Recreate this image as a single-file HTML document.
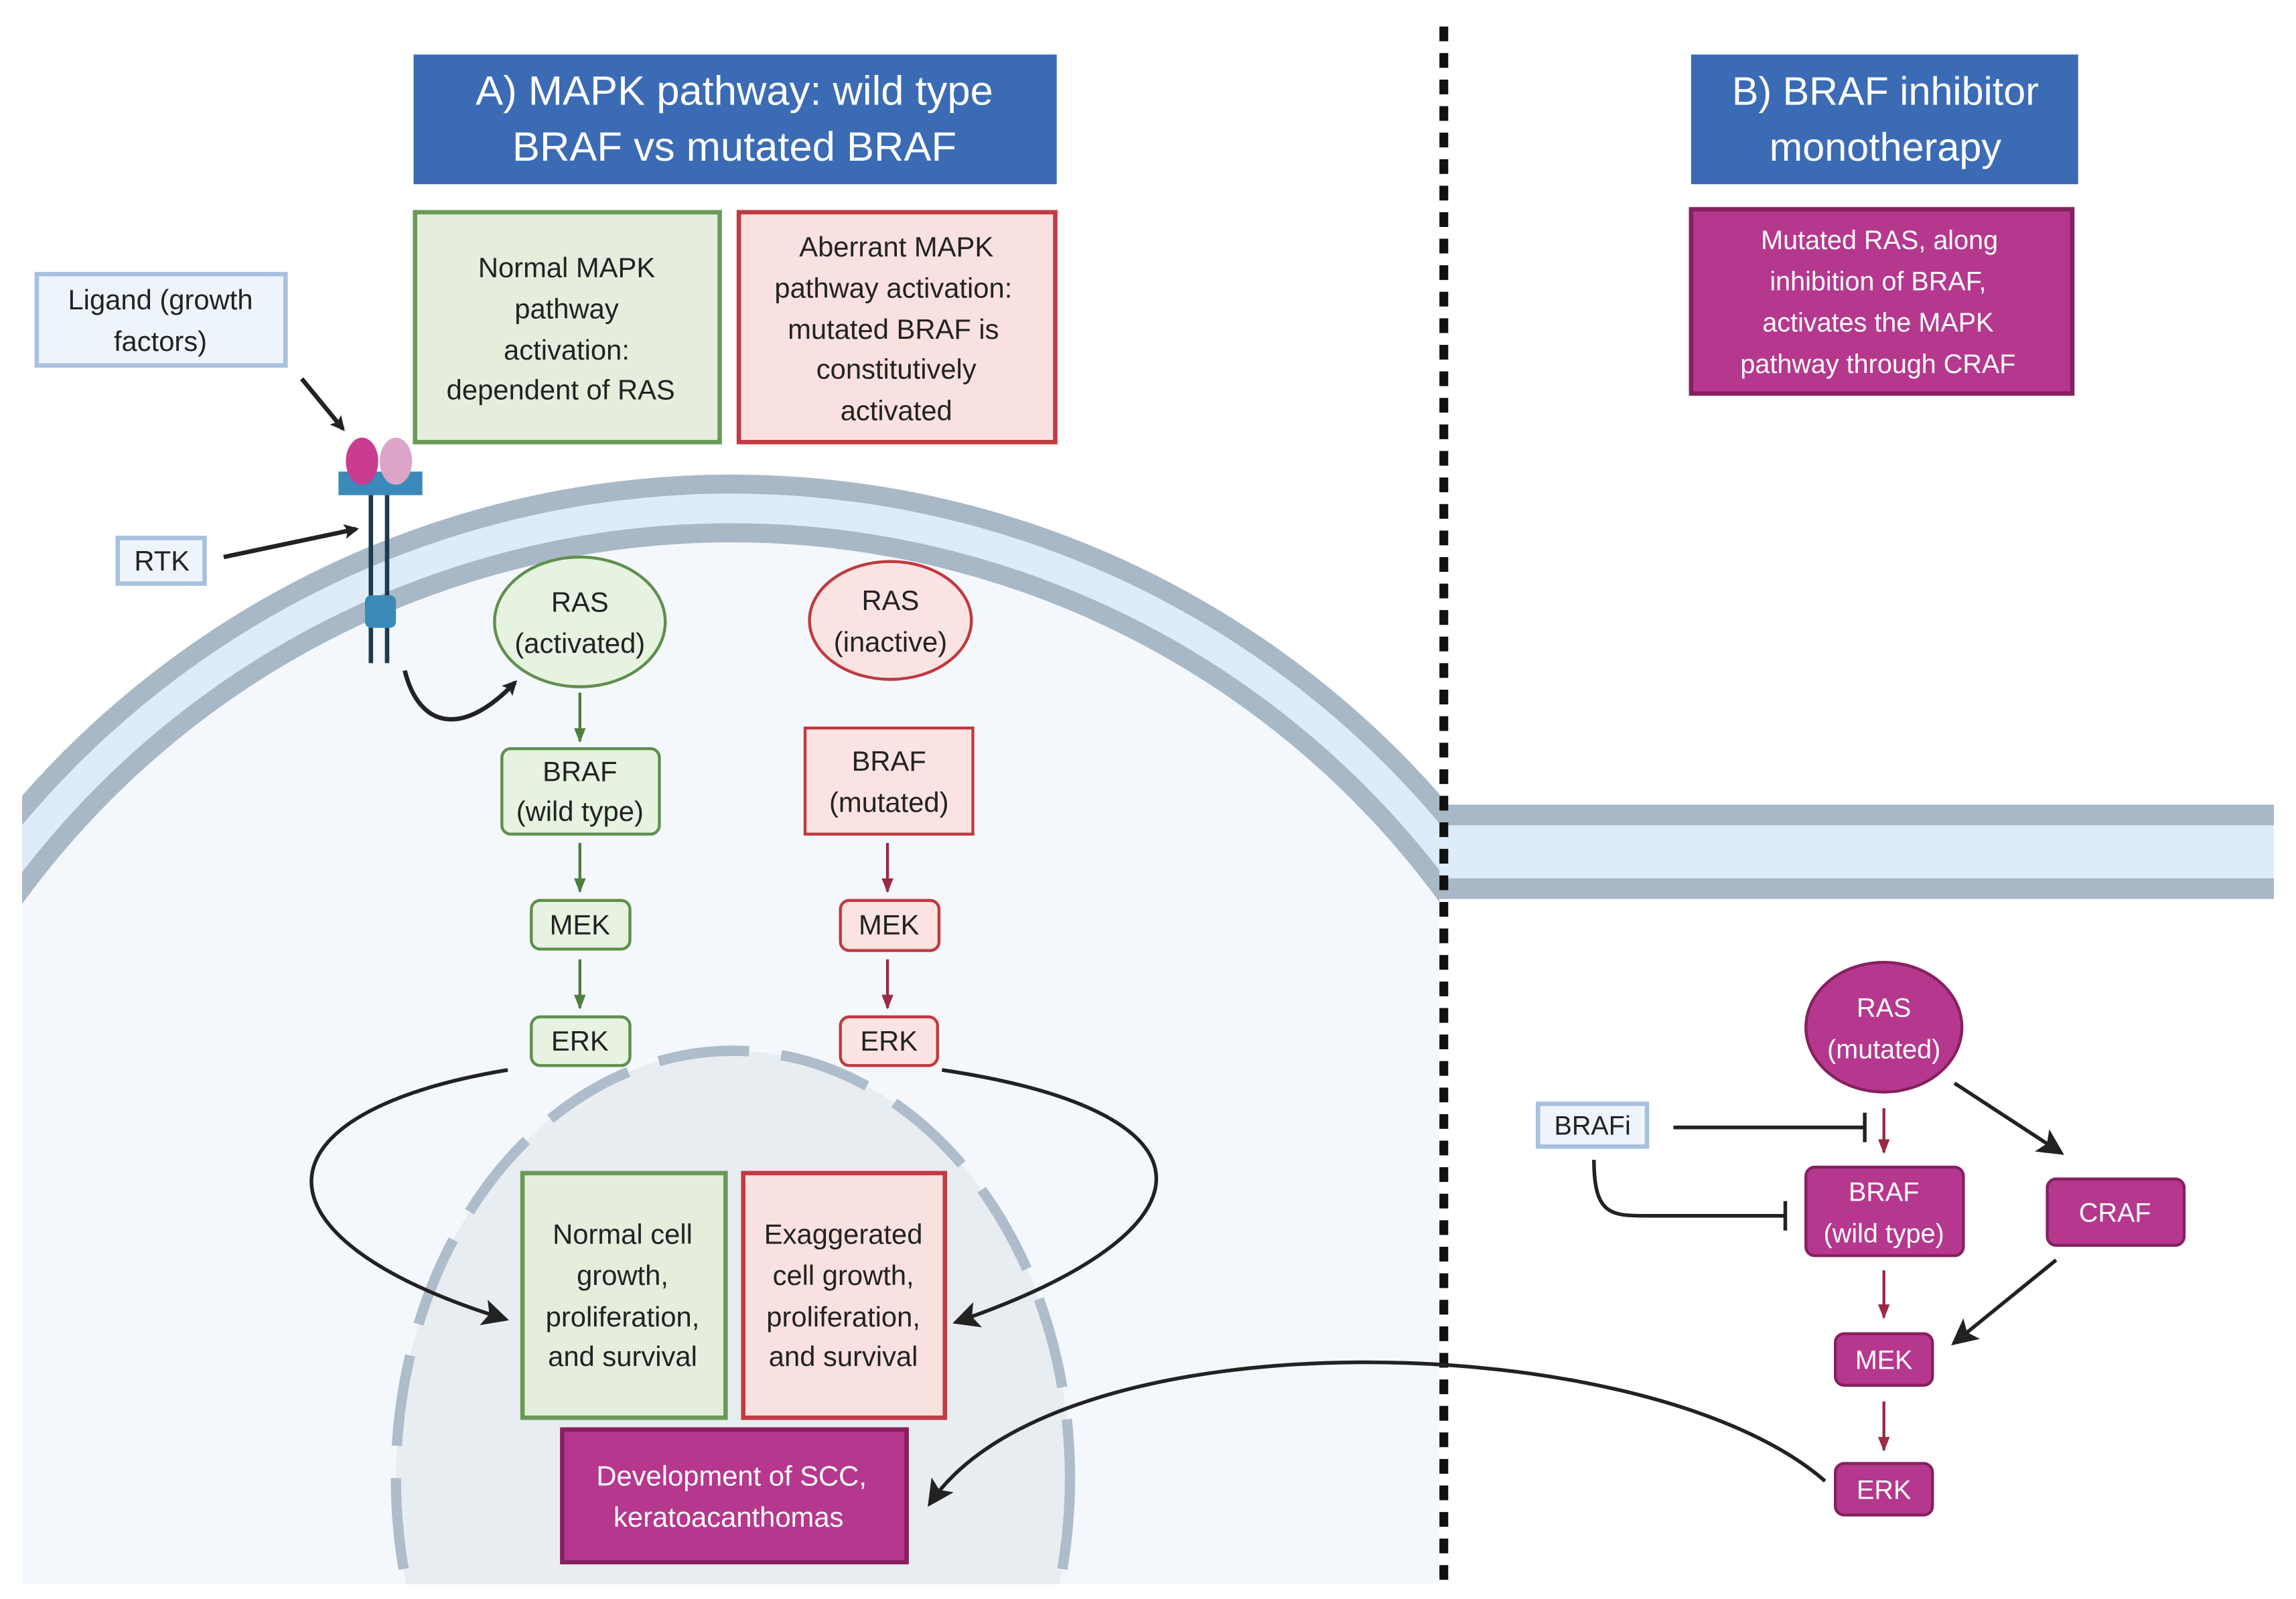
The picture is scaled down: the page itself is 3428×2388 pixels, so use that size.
<!DOCTYPE html>
<html><head><meta charset="utf-8"><style>html,body{margin:0;padding:0;background:#fff;width:3428px;height:2388px;overflow:hidden}svg{display:block}text{font-family:"Liberation Sans",sans-serif}</style></head><body>
<svg width="3428" height="2388" viewBox="0 0 1560 1085" preserveAspectRatio="none" xmlns="http://www.w3.org/2000/svg">
<defs>
<clipPath id="cl"><rect x="15" y="0" width="963" height="1075"/></clipPath>
<marker id="ab" markerWidth="10" markerHeight="10" refX="8" refY="5" orient="auto" markerUnits="userSpaceOnUse"><path d="M0,0 L10,5 L0,10 L2,5 z" fill="#222"/></marker>
<marker id="abl" markerWidth="18" markerHeight="18" refX="15" refY="9" orient="auto" markerUnits="userSpaceOnUse"><path d="M0,0 L18,9 L0,18 L4,9 z" fill="#222"/></marker>
<marker id="ag" markerWidth="10" markerHeight="10" refX="9" refY="5" orient="auto" markerUnits="userSpaceOnUse"><path d="M0,1 L10,5 L0,9 z" fill="#4f7f3e"/></marker>
<marker id="ar" markerWidth="10" markerHeight="10" refX="9" refY="5" orient="auto" markerUnits="userSpaceOnUse"><path d="M0,1 L10,5 L0,9 z" fill="#9a2a45"/></marker>
</defs>
<g clip-path="url(#cl)">
<circle cx="497" cy="964" r="636" fill="#f4f8fc"/>
<circle cx="497" cy="964" r="635.5" fill="none" stroke="#a9b8c6" stroke-width="13"/>
<circle cx="497" cy="964" r="619" fill="none" stroke="#deebf8" stroke-width="20"/>
<circle cx="497" cy="964" r="602.5" fill="none" stroke="#a9b8c6" stroke-width="13"/>
<ellipse cx="498" cy="1003" rx="229" ry="290" fill="#e8edf2" stroke="#aebccb" stroke-width="7" stroke-dasharray="62 22"/>
</g>
<rect x="978" y="546" width="567" height="64" fill="#a9b8c6"/>
<rect x="978" y="560" width="567" height="36" fill="#deebf8"/>
<line x1="981" y1="18" x2="981" y2="1075" stroke="#111" stroke-width="6" stroke-dasharray="10 8"/>

<rect x="281" y="37" width="437" height="88" fill="#3b6bb4"/>
<text x="499" y="71" font-size="28" fill="#fff" text-anchor="middle">A) MAPK pathway: wild type</text>
<text x="499" y="109" font-size="28" fill="#fff" text-anchor="middle">BRAF vs mutated BRAF</text>
<rect x="1149" y="37" width="263" height="88" fill="#3b6bb4"/>
<text x="1281" y="71" font-size="27" fill="#fff" text-anchor="middle">B) BRAF inhibitor</text>
<text x="1281" y="109" font-size="27" fill="#fff" text-anchor="middle">monotherapy</text>

<g font-size="19" fill="#222" text-anchor="middle">
<rect x="282" y="144" width="207" height="156" fill="#e5eedd" stroke="#6a9a58" stroke-width="3"/>
<text x="385" y="188">Normal MAPK</text><text x="385" y="216">pathway</text><text x="385" y="244">activation:</text><text x="381" y="271">dependent of RAS</text>
<rect x="502" y="144" width="215" height="156" fill="#f9e1df" stroke="#c23a42" stroke-width="3"/>
<text x="609" y="174">Aberrant MAPK</text><text x="607" y="202">pathway activation:</text><text x="607" y="230">mutated BRAF is</text><text x="609" y="257">constitutively</text><text x="609" y="285">activated</text>
<rect x="25" y="186" width="169" height="62" fill="#eef4fb" stroke="#a9c0e0" stroke-width="3"/>
<text x="109" y="210">Ligand (growth</text><text x="109" y="238">factors)</text>
<rect x="80" y="365" width="59" height="31" fill="#eef4fb" stroke="#a9c0e0" stroke-width="3"/>
<text x="110" y="387">RTK</text>
</g>
<line x1="205" y1="257" x2="233" y2="291" stroke="#222" stroke-width="3" marker-end="url(#ab)"/>
<line x1="152" y1="378" x2="242" y2="359" stroke="#222" stroke-width="3" marker-end="url(#ab)"/>
<line x1="252" y1="320" x2="252" y2="450" stroke="#1d3b4f" stroke-width="3"/>
<line x1="263" y1="320" x2="263" y2="450" stroke="#1d3b4f" stroke-width="3"/>
<path d="M230,320 h57 v16 h-57 z" fill="#3a89b8"/>
<rect x="248" y="404" width="21" height="22" rx="4" fill="#3a89b8"/>
<ellipse cx="269" cy="313" rx="11" ry="16" fill="#dca5c8"/>
<ellipse cx="246" cy="313" rx="11" ry="16" fill="#c93c92"/>
<path d="M275,455 C285,495 315,500 350,463" fill="none" stroke="#222" stroke-width="3" marker-end="url(#ab)"/>

<g font-size="19" fill="#222" text-anchor="middle">
<ellipse cx="394" cy="422" rx="58" ry="44" fill="#e5f3e0" stroke="#5f8f4e" stroke-width="2"/>
<text x="394" y="415">RAS</text><text x="394" y="443">(activated)</text>
<ellipse cx="605" cy="421" rx="55" ry="40" fill="#fbe3e1" stroke="#c0393f" stroke-width="2"/>
<text x="605" y="414">RAS</text><text x="605" y="442">(inactive)</text>
<rect x="341" y="508" width="107" height="58" rx="6" fill="#e5f3e0" stroke="#5f8f4e" stroke-width="2"/>
<text x="394" y="530">BRAF</text><text x="394" y="557">(wild type)</text>
<rect x="547" y="494" width="114" height="72" fill="#fbe3e1" stroke="#c0393f" stroke-width="2"/>
<text x="604" y="523">BRAF</text><text x="604" y="551">(mutated)</text>
<rect x="361" y="611" width="67" height="33" rx="6" fill="#e5f3e0" stroke="#5f8f4e" stroke-width="2"/><text x="394" y="634">MEK</text>
<rect x="361" y="690" width="67" height="33" rx="6" fill="#e5f3e0" stroke="#5f8f4e" stroke-width="2"/><text x="394" y="713">ERK</text>
<rect x="571" y="611" width="67" height="34" rx="6" fill="#fbe3e1" stroke="#c0393f" stroke-width="2"/><text x="604" y="634">MEK</text>
<rect x="571" y="690" width="66" height="33" rx="6" fill="#fbe3e1" stroke="#c0393f" stroke-width="2"/><text x="604" y="713">ERK</text>
</g>
<g stroke-width="2">
<line x1="394" y1="470" x2="394" y2="503" stroke="#4f7f3e" marker-end="url(#ag)"/>
<line x1="394" y1="572" x2="394" y2="605" stroke="#4f7f3e" marker-end="url(#ag)"/>
<line x1="394" y1="651" x2="394" y2="684" stroke="#4f7f3e" marker-end="url(#ag)"/>
<line x1="603" y1="572" x2="603" y2="605" stroke="#9a2a45" marker-end="url(#ar)"/>
<line x1="603" y1="651" x2="603" y2="684" stroke="#9a2a45" marker-end="url(#ar)"/>
</g>

<g font-size="19" fill="#222" text-anchor="middle">
<rect x="355" y="796" width="138" height="166" fill="#e5eedd" stroke="#6a9a58" stroke-width="3"/>
<text x="423" y="844">Normal cell</text><text x="423" y="872">growth,</text><text x="423" y="900">proliferation,</text><text x="423" y="927">and survival</text>
<rect x="505" y="796" width="137" height="166" fill="#f9e1df" stroke="#c23a42" stroke-width="3"/>
<text x="573" y="844">Exaggerated</text><text x="573" y="872">cell growth,</text><text x="573" y="900">proliferation,</text><text x="573" y="927">and survival</text>
</g>
<rect x="382" y="970" width="234" height="90" fill="#b5388e" stroke="#86205f" stroke-width="3"/>
<text x="497" y="1008" font-size="19" fill="#fff" text-anchor="middle">Development of SCC,</text>
<text x="495" y="1036" font-size="19" fill="#fff" text-anchor="middle">keratoacanthomas</text>

<path d="M345,726 C170,755 165,840 343,895" fill="none" stroke="#222" stroke-width="2.5" marker-end="url(#abl)"/>
<path d="M640,726 C835,755 830,835 650,897" fill="none" stroke="#222" stroke-width="2.5" marker-end="url(#abl)"/>
<path d="M1240,1005 C1120,900 720,890 632,1020" fill="none" stroke="#222" stroke-width="2.5" marker-end="url(#abl)"/>

<rect x="1149" y="142" width="259" height="125" fill="#b5388e" stroke="#86205f" stroke-width="3"/>
<g font-size="18" fill="#fff" text-anchor="middle">
<text x="1277" y="169">Mutated RAS, along</text><text x="1276" y="197">inhibition of BRAF,</text><text x="1276" y="225">activates the MAPK</text><text x="1276" y="253">pathway through CRAF</text>
<ellipse cx="1280" cy="697" rx="53" ry="44" fill="#b5388e" stroke="#86205f" stroke-width="2"/>
<text x="1280" y="690">RAS</text><text x="1280" y="718">(mutated)</text>
<rect x="1227" y="792" width="107" height="60" rx="6" fill="#b5388e" stroke="#86205f" stroke-width="2"/>
<text x="1280" y="815">BRAF</text><text x="1280" y="843">(wild type)</text>
<rect x="1391" y="800" width="93" height="45" rx="6" fill="#b5388e" stroke="#86205f" stroke-width="2"/><text x="1437" y="829">CRAF</text>
<rect x="1247" y="905" width="66" height="35" rx="6" fill="#b5388e" stroke="#86205f" stroke-width="2"/><text x="1280" y="929">MEK</text>
<rect x="1247" y="993" width="66" height="35" rx="6" fill="#b5388e" stroke="#86205f" stroke-width="2"/><text x="1280" y="1017">ERK</text>
</g>
<rect x="1045" y="749" width="74" height="29" fill="#eef4fb" stroke="#a9c0e0" stroke-width="3"/>
<text x="1082" y="770" font-size="18" fill="#222" text-anchor="middle">BRAFi</text>
<g stroke="#222" stroke-width="2.5" fill="none">
<line x1="1137" y1="765" x2="1267" y2="765"/><line x1="1267" y1="755" x2="1267" y2="775"/>
<path d="M1083,787 C1083,825 1095,825 1120,825 L1213,825"/><line x1="1213" y1="815" x2="1213" y2="835"/>
<line x1="1328" y1="735" x2="1400" y2="782" marker-end="url(#abl)"/>
<line x1="1397" y1="855" x2="1328" y2="911" marker-end="url(#abl)"/>
</g>
<g stroke-width="2">
<line x1="1280" y1="752" x2="1280" y2="782" stroke="#9a2a45" marker-end="url(#ar)"/>
<line x1="1280" y1="862" x2="1280" y2="894" stroke="#9a2a45" marker-end="url(#ar)"/>
<line x1="1280" y1="951" x2="1280" y2="984" stroke="#9a2a45" marker-end="url(#ar)"/>
</g>
</svg>
</body></html>
